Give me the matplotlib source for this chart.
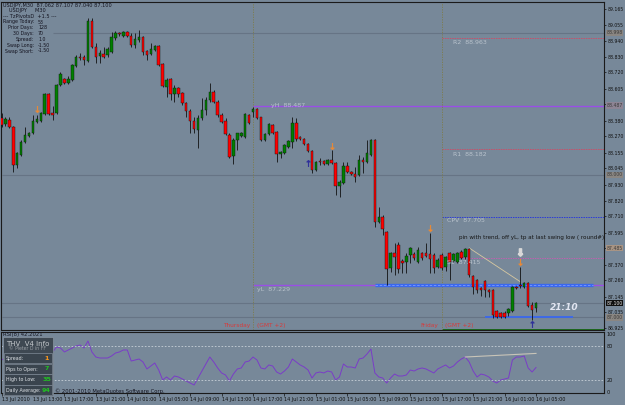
import matplotlib
matplotlib.use("Agg")
import matplotlib.pyplot as plt
from matplotlib.patches import Rectangle

W, H = 625, 405
bg = "#778899"

# USDJPY M30 candles, 13 Jul 09:00 .. 16 Jul 05:00
opens = [88.400, 88.358, 88.386, 88.337, 88.070, 88.140, 88.231, 88.273, 88.294, 88.372,
         88.379, 88.428, 88.568, 88.435, 88.435, 88.631, 88.673, 88.645, 88.666, 88.765,
         88.828, 88.828, 88.800, 89.081, 88.898, 88.835, 88.849, 88.842, 88.863, 88.961,
         88.996, 88.975, 89.003, 88.975, 88.912, 88.947, 88.968, 88.870, 88.849, 88.877,
         88.905, 88.779, 88.617, 88.673, 88.568, 88.610, 88.575, 88.505, 88.449, 88.379,
         88.315, 88.400, 88.456, 88.526, 88.582, 88.512, 88.421, 88.379, 88.280, 88.133,
         88.245, 88.273, 88.266, 88.421, 88.442, 88.463, 88.407, 88.245, 88.287, 88.351,
         88.301, 88.147, 88.154, 88.196, 88.231, 88.365, 88.266, 88.252, 88.217, 88.168,
         88.035, 88.098, 88.098, 88.077, 88.105, 88.084, 87.922, 87.943, 88.063, 88.021,
         88.007, 88.000, 88.105, 88.091, 88.140, 88.245, 87.670, 87.705, 87.599, 87.347,
         87.452, 87.508, 87.396, 87.389, 87.438, 87.445, 87.389, 87.452, 87.452, 87.445,
         87.438, 87.354, 87.438, 87.354, 87.452, 87.396, 87.389, 87.459, 87.424, 87.480,
         87.290, 87.262, 87.206, 87.255, 87.192, 87.192, 87.045, 87.031, 87.031, 87.031,
         87.045, 87.213, 87.227, 87.213, 87.241, 87.087, 87.062]
highs = [88.435, 88.407, 88.407, 88.342, 88.161, 88.245, 88.337, 88.301, 88.421, 88.421,
         88.442, 88.575, 88.575, 88.484, 88.638, 88.723, 88.680, 88.694, 88.779, 88.842,
         88.856, 88.842, 89.102, 89.102, 88.926, 88.877, 88.898, 88.898, 89.003, 89.010,
         89.003, 89.010, 89.010, 88.996, 88.996, 89.017, 88.975, 88.877, 88.926, 88.912,
         88.912, 88.786, 88.680, 88.680, 88.631, 88.617, 88.582, 88.512, 88.463, 88.407,
         88.421, 88.540, 88.547, 88.645, 88.596, 88.526, 88.435, 88.400, 88.294, 88.259,
         88.294, 88.301, 88.435, 88.428, 88.477, 88.470, 88.410, 88.294, 88.365, 88.358,
         88.308, 88.168, 88.217, 88.245, 88.407, 88.400, 88.273, 88.259, 88.224, 88.175,
         88.098, 88.119, 88.105, 88.112, 88.175, 88.091, 87.964, 88.091, 88.091, 88.028,
         88.056, 88.140, 88.126, 88.245, 88.252, 88.252, 87.775, 87.719, 87.606, 87.459,
         87.522, 87.529, 87.410, 87.452, 87.494, 87.459, 87.494, 87.459, 87.522, 87.592,
         87.452, 87.417, 87.452, 87.431, 87.459, 87.452, 87.459, 87.473, 87.487, 87.487,
         87.298, 87.269, 87.213, 87.262, 87.199, 87.199, 87.052, 87.038, 87.045, 87.066,
         87.220, 87.220, 87.354, 87.248, 87.248, 87.108, 87.107]
lows = [88.337, 88.344, 88.330, 88.021, 88.049, 88.133, 88.224, 88.266, 88.287, 88.365,
        88.372, 88.421, 88.421, 88.386, 88.428, 88.624, 88.638, 88.638, 88.659, 88.758,
        88.807, 88.772, 88.793, 88.891, 88.786, 88.786, 88.821, 88.828, 88.856, 88.947,
        88.975, 88.970, 88.968, 88.898, 88.891, 88.933, 88.842, 88.807, 88.842, 88.870,
        88.765, 88.617, 88.547, 88.526, 88.512, 88.547, 88.491, 88.407, 88.294, 88.294,
        88.189, 88.386, 88.421, 88.512, 88.505, 88.407, 88.365, 88.280, 88.119, 88.077,
        88.175, 88.266, 88.260, 88.358, 88.407, 88.393, 88.238, 88.238, 88.280, 88.287,
        88.091, 88.119, 88.147, 88.189, 88.189, 88.238, 88.245, 88.210, 88.161, 88.014,
        88.028, 88.070, 88.070, 88.070, 88.077, 87.859, 87.845, 87.936, 88.014, 88.000,
        87.950, 87.995, 88.014, 88.085, 88.133, 87.634, 87.663, 87.578, 87.227, 87.319,
        87.298, 87.312, 87.312, 87.312, 87.382, 87.403, 87.382, 87.403, 87.424, 87.312,
        87.312, 87.347, 87.333, 87.326, 87.262, 87.389, 87.382, 87.410, 87.410, 87.283,
        87.164, 87.171, 87.150, 87.143, 87.143, 86.996, 86.996, 86.996, 86.996, 87.010,
        87.038, 87.199, 87.206, 87.206, 87.073, 86.982, 87.040]
closes = [88.351, 88.393, 88.337, 88.070, 88.154, 88.231, 88.280, 88.294, 88.379, 88.393,
          88.435, 88.568, 88.428, 88.421, 88.631, 88.709, 88.645, 88.673, 88.772, 88.828,
          88.821, 88.807, 89.081, 88.898, 88.828, 88.856, 88.828, 88.884, 88.968, 88.996,
          88.989, 89.003, 88.975, 88.912, 88.954, 88.968, 88.863, 88.842, 88.884, 88.905,
          88.772, 88.624, 88.666, 88.568, 88.610, 88.568, 88.505, 88.449, 88.379, 88.322,
          88.400, 88.456, 88.526, 88.582, 88.512, 88.421, 88.372, 88.287, 88.126, 88.245,
          88.294, 88.294, 88.428, 88.365, 88.463, 88.400, 88.245, 88.287, 88.358, 88.294,
          88.147, 88.161, 88.210, 88.238, 88.365, 88.252, 88.252, 88.217, 88.168, 88.035,
          88.091, 88.091, 88.077, 88.105, 88.084, 87.922, 87.950, 88.063, 88.021, 88.007,
          87.986, 88.105, 88.091, 88.154, 88.245, 87.670, 87.705, 87.620, 87.340, 87.452,
          87.424, 87.340, 87.382, 87.431, 87.487, 87.417, 87.473, 87.417, 87.431, 87.410,
          87.347, 87.403, 87.347, 87.424, 87.389, 87.445, 87.452, 87.417, 87.480, 87.298,
          87.213, 87.192, 87.192, 87.192, 87.178, 87.017, 87.003, 87.003, 87.003, 87.059,
          87.213, 87.206, 87.220, 87.241, 87.080, 87.052, 87.100]

rsi = [55.2, 58.6, 46.6, 29.3, 34.5, 41.4, 50.0, 51.7, 60.3, 62.1,
       63.8, 75.9, 58.6, 69.0, 77.6, 75.9, 69.0, 72.4, 75.9, 79.3,
       81.0, 75.9, 87.9, 69.0, 60.3, 58.6, 58.6, 58.6, 62.1, 67.2,
       69.0, 72.4, 72.4, 53.4, 55.2, 56.9, 51.7, 39.7, 44.8, 50.0,
       37.9, 20.7, 25.9, 20.7, 27.6, 25.9, 22.4, 19.0, 15.5, 12.1,
       24.1, 36.2, 48.3, 60.3, 51.7, 41.4, 32.8, 29.3, 19.0, 31.0,
       39.7, 41.4, 51.7, 53.4, 60.3, 55.2, 41.4, 39.7, 46.6, 44.8,
       34.5, 31.0, 36.2, 43.1, 56.9, 51.7, 46.6, 43.1, 37.9, 24.1,
       32.8, 34.5, 32.8, 36.2, 34.5, 20.7, 25.9, 48.3, 43.1, 43.1,
       41.4, 56.9, 58.6, 65.5, 74.1, 32.8, 25.9, 24.1, 15.5, 24.1,
       31.0, 27.6, 27.6, 29.3, 37.9, 36.2, 39.7, 41.4, 39.7, 36.2,
       32.8, 39.7, 43.1, 46.6, 41.4, 44.8, 51.7, 56.9, 60.3, 51.7,
       36.2, 25.9, 31.0, 29.3, 25.9, 19.0, 15.5, 20.7, 22.4, 24.1,
       55.2, 60.3, 60.3, 62.1, 41.4, 34.5, 42.2]

time_ticks = list(range(0, 137, 8))
time_labels = ["13 Jul 2010", "13 Jul 13:00", "13 Jul 17:00", "13 Jul 21:00",
               "14 Jul 01:00", "14 Jul 05:00", "14 Jul 09:00", "14 Jul 13:00",
               "14 Jul 17:00", "14 Jul 21:00", "15 Jul 01:00", "15 Jul 05:00",
               "15 Jul 09:00", "15 Jul 13:00", "15 Jul 17:00", "15 Jul 21:00",
               "16 Jul 01:00", "16 Jul 05:00"]
price_ticks = [89.165, 89.055, 88.940, 88.830, 88.720, 88.605, 88.495, 88.380,
               88.270, 88.155, 88.045, 87.930, 87.820, 87.710, 87.595, 87.485,
               87.370, 87.260, 87.145, 87.035, 86.925]

# pivots (from Friday separator), yesterday high/low, day levels
pivot_names = ["R2", "R1", "CPV", "S1"]
pivot_vals = [88.963, 88.182, 87.705, 87.415]
pivot_cols = ["#c8506a", "#c8506a", "#2a3ad8", "#c060b0"]
yhl_vals = [88.487, 87.229]
day_levels = [88.998, 88.000, 87.000]
day_starts = [13, 0, 0]
bid = 87.100
sep_bars = [64, 112]
fractal_up_bars = [9, 84, 109, 132]
fractal_up_prices = [88.463, 88.205, 87.627, 87.389]
fractal_dn_bars = [78, 135]
fractal_dn_prices = [88.084, 86.954]
trend_bars = [119, 132]
trend_prices = [87.487, 87.250]
rsi_trend_bars = [118, 136]
rsi_trend_vals = [60.3, 66.5]

XL = (-0.13, 153.3)

fig = plt.figure(figsize=(W / 100, H / 100), dpi=100, facecolor=bg)


def box(x0, y0, x1, y1):
    return [x0 / W, 1 - y1 / H, (x1 - x0) / W, (y1 - y0) / H]


ax = fig.add_axes(box(1, 2, 604, 330), facecolor=bg)
ax.set_xlim(*XL)
ax.set_ylim(86.911, 89.214)
for s in ax.spines.values():
    s.set_color("#1a1a1a")
    s.set_linewidth(0.8)
ax.set_xticks([])
ax.yaxis.tick_right()
# labels hidden where a highlighted box sits on the scale
hidden = (88.495, 87.485)
ax.set_yticks(price_ticks, ["" if p in hidden else f"{p:.3f}" for p in price_ticks])
ax.tick_params(axis="y", length=1.5, width=0.5, pad=0.8, labelsize=3.3,
               colors="#111111")

# level lines
for lv, st in zip(day_levels, day_starts):
    ax.hlines(lv, st, XL[1], color="#667485", lw=0.8, zorder=1)
ax.hlines(bid, XL[0], XL[1], color="#667485", lw=0.8, zorder=1)
for v, c in zip(pivot_vals, pivot_cols):
    ax.hlines(v, sep_bars[1], XL[1], color=c, lw=0.7, linestyles=(0, (1.5, 1)), zorder=1)
ax.hlines(86.917, sep_bars[1], XL[1], color="#1c6a1c", lw=0.7, zorder=1)
for v in yhl_vals:
    ax.hlines(v, sep_bars[0], XL[1], color="#9a4ee6", lw=1.0, zorder=1)
ax.hlines(yhl_vals[1], 95, 150.5, color="#3a68ee", lw=2.4, zorder=2)
ax.hlines(yhl_vals[1], 95, 150.5, color="#7f9cff", lw=0.6, linestyles=(0, (3, 2)), zorder=2)
ax.hlines(87.003, 123, 145.3, color="#3a68ee", lw=1.3, zorder=2)
for b in sep_bars:
    ax.axvline(b, color="#7d7c48", lw=0.6, ls=(0, (1.5, 1.5)), zorder=1)
ax.plot(trend_bars, trend_prices, color="#d8c8a0", lw=0.6, zorder=2)

# candles
x = list(range(len(opens)))
ax.vlines(x, lows, highs, color="#111111", lw=0.6, zorder=3)
bodies = [max(abs(c - o), 0.004) for o, c in zip(opens, closes)]
bottoms = [min(o, c) for o, c in zip(opens, closes)]
cols = ["#008000" if c > o else "#ff0000" for o, c in zip(opens, closes)]
ax.bar(x, bodies, bottom=bottoms, width=0.64, color=cols, edgecolor="#111111",
       linewidth=0.3, zorder=4)

ax.scatter(fractal_up_bars, fractal_up_prices, marker=r"$\downarrow$", s=22,
           color="#f08a30", zorder=5, linewidths=0.3)
ax.scatter(fractal_dn_bars, fractal_dn_prices, marker=r"$\uparrow$", s=22,
           color="#2a2a9a", zorder=5, linewidths=0.3)
ax.scatter([132], [87.461], marker=r"$\Downarrow$", s=28, color="#d8d8d8", zorder=5)

# right-axis highlighted price boxes
ytr = ax.get_yaxis_transform()
hl = [(88.998, "88.998", "#8a8682", "#3a3a3a"), (88.487, "88.487", "#8d8494", "#3a3a3a"),
      (88.000, "88.000", "#8a8682", "#3a3a3a"), (87.485, "87.485", "#a89484", "#3a3a3a"),
      (87.000, "87.000", "#8a8682", "#3a3a3a"), (bid, "87.100", "#101010", "#e8e8e8")]
for v, t, fc, tc in hl:
    ax.text(1.004, v, t, transform=ytr, fontsize=3.3, color=tc, va="center", ha="left",
            bbox=dict(boxstyle="square,pad=0.15", fc=fc, ec="none"), zorder=6)

# RSI panel
ar = fig.add_axes(box(1, 332, 604, 393), facecolor=bg)
ar.set_xlim(*XL)
ar.set_ylim(-1.7, 103.4)
for s in ar.spines.values():
    s.set_color("#1a1a1a")
    s.set_linewidth(0.8)
ar.plot(x, rsi, color="#7a3cc8", lw=0.7)
ar.plot(rsi_trend_bars, rsi_trend_vals, color="#c8c4b8", lw=0.8)
for lv in (80, 20):
    ar.axhline(lv, color="#c8d0d8", lw=0.6, ls=(0, (2, 2)))
ar.yaxis.tick_right()
ar.set_yticks([100, 80, 20, 0], ["100", "80", "20", "0"])
ar.tick_params(axis="y", length=0, pad=2, labelsize=3.5, colors="#111111")
ar.set_xticks(time_ticks, time_labels, ha="left")
ar.tick_params(axis="x", length=2, width=0.5, pad=1, labelsize=3.5, colors="#111111")

# overlay in pixel coordinates for texts and the info panel
ov = fig.add_axes([0, 0, 1, 1], zorder=10)
ov.set_xlim(0, W)
ov.set_ylim(H, 0)
ov.axis("off")
ov.patch.set_alpha(0)

dark = "#141420"
ov.text(3, 5, "USDJPY,M30  87.062 87.107 87.040 87.100", fontsize=3.6, color=dark, va="center")
ov.text(9, 10.5, "USDJPY     M30", fontsize=3.6, color=dark, va="center")
ov.text(3, 16, "--- TzPivotsD  +1.5 ---", fontsize=3.6, color=dark, va="center")
info_rows = [("Range Today:", "53"), ("Prior Days:", "128"), ("30 Days:", "70"),
             ("Spread:", "1.0"), ("Swap Long:", "-1.50"), ("Swap Short:", "-1.50")]
for k, (lab, val) in enumerate(info_rows):
    yy = 22 + k * 5.8
    ov.text(34, yy, lab, fontsize=3.4, color=dark, va="center", ha="right")
    ov.text(38, yy, val, fontsize=3.4, color=dark, va="center", ha="left")

lab_c = "#b8c2cc"
ov.text(271, 106, "yH  88.487", fontsize=4.5, color=lab_c, va="center")
ov.text(257, 289, "yL  87.229", fontsize=4.5, color=lab_c, va="center")
ov.text(453, 43, "R2  88.963", fontsize=4.5, color=lab_c, va="center")
ov.text(453, 154, "R1  88.182", fontsize=4.5, color=lab_c, va="center")
ov.text(447, 221, "CPV  87.705", fontsize=4.5, color=lab_c, va="center")
ov.text(447, 262, "S1  87.415", fontsize=4.5, color=lab_c, va="center")

ov.text(459, 237, "pin with trend, off yL, tp at last swing low ( round#)",
        fontsize=4.1, color="#161616", va="center")
ov.text(550, 308, "21:10", fontsize=6.5, color="#e2e6f2", va="center",
        fontweight="bold", style="italic")

red = "#d83a3a"
ov.text(250, 325, "Thursday", fontsize=4.2, color=red, va="center", ha="right")
ov.text(257, 325, "(GMT +2)", fontsize=4.2, color=red, va="center")
ov.text(438, 325, "Friday", fontsize=4.2, color=red, va="center", ha="right")
ov.text(445, 325, "(GMT +2)", fontsize=4.2, color=red, va="center")

ov.text(3, 334.5, "RSI(8) 42.2021", fontsize=3.8, color=dark, va="center")
ov.text(55, 391.5, "\u00a9 2001-2010 MetaQuotes Software Corp.", fontsize=3.8, color=dark,
        va="center", zorder=1)

# THV info panel
ov.add_patch(Rectangle((3, 337), 50, 59, fc="#3e4852", ec="#8a96a2", lw=0.5, zorder=2))
ov.text(28, 343.5, "THV  V4 Info", fontsize=5, color="#c4c8cc", ha="center", va="center", zorder=3)
ov.text(28, 349, "\u00a9 Pieter D in FF", fontsize=3.3, color="#9aa0a6", ha="center", va="center", zorder=3)
panel_rows = [("Spread:", "1", "#ff9a1a"), ("Pips to Open:", "7", "#22c022"),
              ("High to Low:", "35", "#22c022"), ("Daily Average:", "94", "#22c022")]
for k, (lab, val, vc) in enumerate(panel_rows):
    y0 = 353 + k * 10.7
    ov.add_patch(Rectangle((4, y0), 48, 10.2, fc="#3a444e", ec="#7f8b97", lw=0.5, zorder=3))
    ov.text(5.5, y0 + 5.3, lab, fontsize=3.4, color="#dde2e6", va="center", zorder=4)
    ov.text(46.5, y0 + 5.3, val, fontsize=4.6, color=vc, va="center", ha="center",
            fontweight="bold", zorder=4)

fig.savefig("out.png", dpi=100, facecolor=bg)
